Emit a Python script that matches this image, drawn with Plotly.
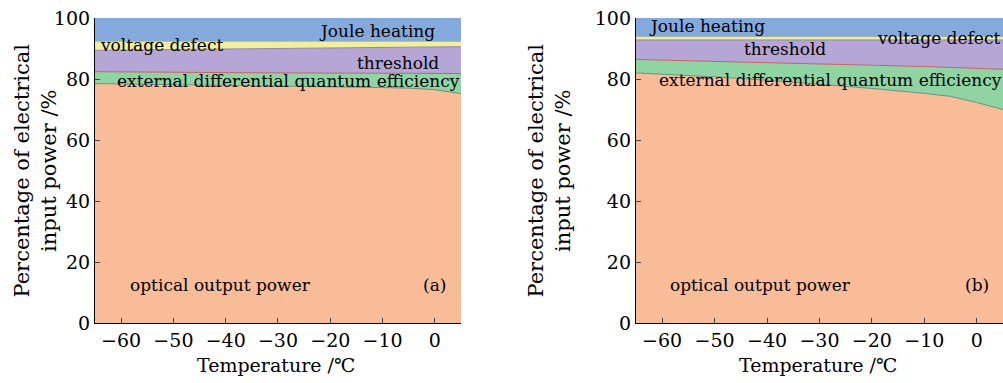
import plotly.graph_objects as go

temperature = [-65, -60, -50, -40, -30, -20, -10, -5, 0, 5]

# panel (a): layer thickness in % of electrical input power
a_optical = [78.5, 78.4, 78.2, 78.0, 77.8, 77.5, 77.2, 77.0, 76.5, 75.2]
a_edqe = [3.9, 3.9, 4.0, 4.1, 4.2, 4.4, 4.6, 4.8, 5.3, 6.6]
a_threshold = [7.0, 7.2, 7.5, 7.7, 8.0, 8.3, 8.5, 8.6, 8.7, 8.8]
a_voltage = [3.0, 2.9, 2.7, 2.6, 2.4, 2.2, 2.1, 2.0, 1.9, 1.8]
a_joule = [7.6, 7.6, 7.6, 7.6, 7.6, 7.6, 7.6, 7.6, 7.6, 7.6]

# panel (b)
b_optical = [82.0, 81.6, 80.7, 79.6, 78.3, 76.9, 75.3, 74.3, 72.3, 70.0]
b_edqe = [4.4, 4.6, 5.2, 5.9, 6.8, 7.7, 8.8, 9.5, 11.2, 13.2]
b_threshold = [6.4, 6.6, 6.9, 7.3, 7.7, 8.2, 8.7, 9.0, 9.3, 9.6]
b_voltage = [1.1, 1.1, 1.1, 1.1, 1.1, 1.1, 1.1, 1.1, 1.1, 1.1]
b_joule = [6.1, 6.1, 6.1, 6.1, 6.1, 6.1, 6.1, 6.1, 6.1, 6.1]

x_ticks = [-60, -50, -40, -30, -20, -10, 0]
y_ticks = [0, 20, 40, 60, 80, 100]

FONT = "DejaVu Serif"
colors = {
    "optical": "#f8bd98",
    "edqe": "#90d4a4",
    "threshold": "#b6a6d6",
    "voltage": "#eef0a0",
    "joule": "#84aadd",
}
line_colors = {
    "optical": "#6f8f78",
    "edqe": "#c86060",
    "threshold": "#8f86a8",
    "voltage": "#a4b0a0",
    "joule": "rgba(0,0,0,0)",
}

fig = go.Figure()

panels = [
    ("x", "y", "a", [a_optical, a_edqe, a_threshold, a_voltage, a_joule]),
    ("x2", "y2", "b", [b_optical, b_edqe, b_threshold, b_voltage, b_joule]),
]
names = ["optical", "edqe", "threshold", "voltage", "joule"]
for xa, ya, tag, layers in panels:
    for name, vals in zip(names, layers):
        fig.add_trace(go.Scatter(
            x=temperature, y=vals, xaxis=xa, yaxis=ya,
            stackgroup=tag, mode="lines",
            line=dict(width=1, color=line_colors[name]),
            fillcolor=colors[name], showlegend=False, hoverinfo="skip",
        ))

axis_common = dict(
    range=[-65, 5], tickvals=x_ticks, ticks="inside", ticklen=5,
    showline=True, linecolor="black", linewidth=1.2, showgrid=False,
    zeroline=False, tickfont=dict(family=FONT, size=19, color="black"),
)
yaxis_common = dict(
    range=[0, 100], tickvals=y_ticks, ticks="inside", ticklen=5,
    showline=True, linecolor="black", linewidth=1.2, showgrid=False,
    zeroline=False, tickfont=dict(family=FONT, size=19, color="black"),
    domain=[0, 1],
)

fig.update_layout(
    width=1003, height=383,
    margin=dict(l=0, r=0, t=18, b=60),
    paper_bgcolor="white", plot_bgcolor="white",
    xaxis=dict(domain=[0.0947, 0.4596], anchor="y", **axis_common),
    yaxis=dict(anchor="x", **yaxis_common),
    xaxis2=dict(domain=[0.634, 1.0], anchor="y2", **axis_common),
    yaxis2=dict(anchor="x2", **yaxis_common),
)

def ann(text, x, y, xref, yref, size=17, **kw):
    fig.add_annotation(text=text, x=x, y=y, xref=xref, yref=yref,
                       xanchor="center", yanchor="middle",
                       showarrow=False, font=dict(family=FONT, size=size, color="black"), **kw)

# panel (a) labels
ann("Joule heating", -11, 95.9, "x", "y")
ann("voltage defect", -52.2, 91.3, "x", "y")
ann("threshold", -7, 85.4, "x", "y")
ann("external differential quantum efficiency", -28, 79.2, "x", "y")
ann("optical output power", -41, 12.6, "x", "y")
ann("(a)", 0, 12.6, "x", "y")

# panel (b) labels
ann("Joule heating", -51.4, 97.5, "x2", "y2")
ann("voltage defect", -7.3, 93.6, "x2", "y2")
ann("threshold", -36.5, 89.7, "x2", "y2")
ann("external differential quantum efficiency", -27.9, 79.8, "x2", "y2")
ann("optical output power", -41.3, 12.6, "x2", "y2")
ann("(b)", 0, 12.6, "x2", "y2")

# axis titles
for px_x in (35 / 1003, 549 / 1003):
    ann("Percentage of electrical<br>input power /%", px_x, 0.5, "paper", "paper",
        size=21, textangle=-90)
ann("Temperature /℃", 276 / 1003, -42 / 305, "paper", "paper", size=19)
ann("Temperature /℃", 818 / 1003, -42 / 305, "paper", "paper", size=19)

fig.write_html("out.html")
